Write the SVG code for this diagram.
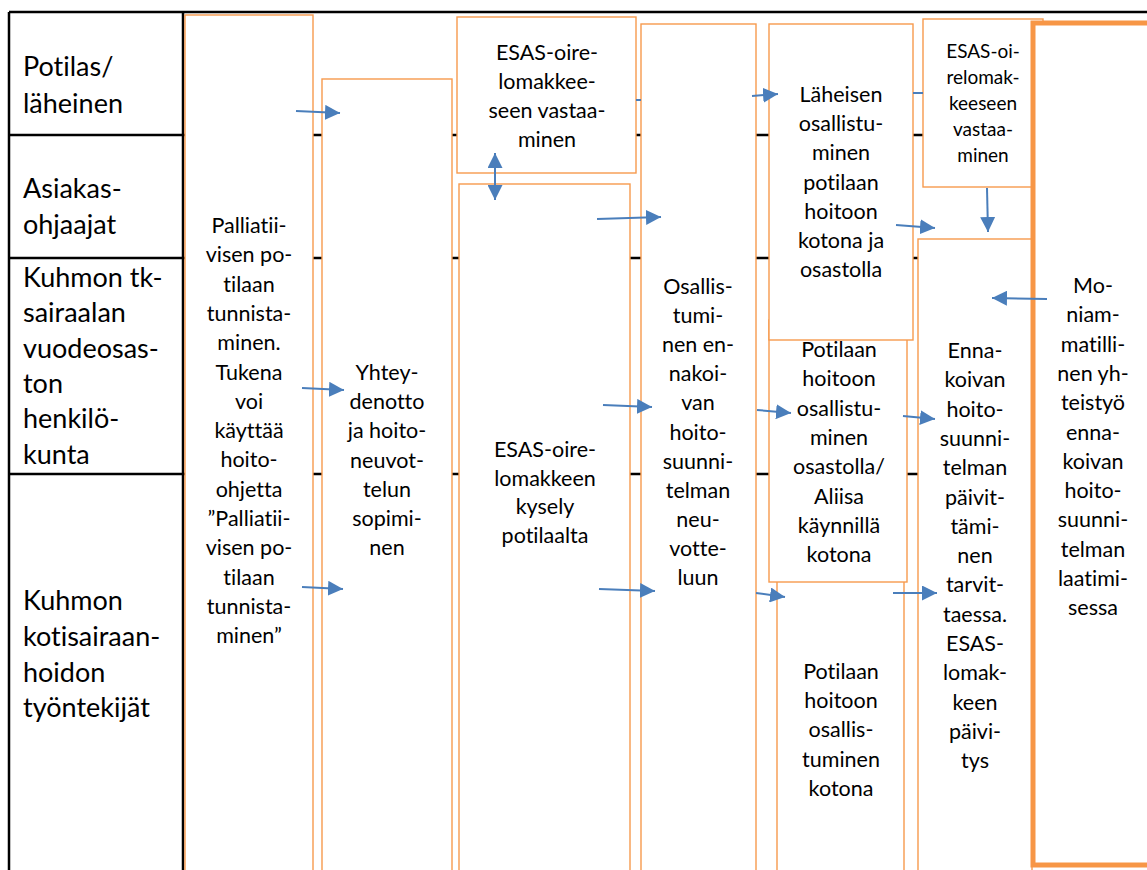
<svg xmlns="http://www.w3.org/2000/svg" width="1147" height="870" viewBox="0 0 1147 870">
<defs>
<style>
text{font-variant-ligatures:none}
.lane{stroke:#000;stroke-width:2.5;fill:none}
.box{fill:#fff;stroke:#F79A4D;stroke-width:1.4}
.thick{fill:#fff;stroke:#F79646;stroke-width:5}
.lbl{font-family:Lato,"Liberation Sans",sans-serif;font-size:27px;fill:#000}
.t{font-family:Lato,"Liberation Sans",sans-serif;font-size:21.5px;fill:#000;text-anchor:middle}
.ts{font-family:Lato,"Liberation Sans",sans-serif;font-size:19px;fill:#000;text-anchor:middle}
.c{stroke:#4A7EBB;stroke-width:2;fill:none}
</style>
<marker id="ah" markerUnits="userSpaceOnUse" markerWidth="16" markerHeight="15" refX="15" refY="7.5" orient="auto">
<path d="M0,0 L15,7.5 L0,15 z" fill="#4A7EBB"/>
</marker>
<marker id="as" markerUnits="userSpaceOnUse" markerWidth="16" markerHeight="15" refX="15" refY="7.5" orient="auto-start-reverse">
<path d="M0,0 L15,7.5 L0,15 z" fill="#4A7EBB"/>
</marker>
</defs>
<rect width="1147" height="870" fill="#fff"/>
<g id="lanes">
<line class="lane" x1="9" y1="12" x2="1147" y2="12"/>
<line class="lane" x1="9" y1="12" x2="9" y2="870"/>
<line class="lane" x1="183" y1="12" x2="183" y2="870"/>
<line class="lane" x1="9" y1="135" x2="1033" y2="135"/>
<line class="lane" x1="9" y1="258" x2="1033" y2="258"/>
<line class="lane" x1="9" y1="474" x2="1033" y2="474"/>
<text class="lbl" x="23" y="76">Potilas/</text>
<text class="lbl" x="23" y="113">läheinen</text>
<text class="lbl" x="23" y="198">Asiakas-</text>
<text class="lbl" x="23" y="234">ohjaajat</text>
<text class="lbl" x="23" y="287">Kuhmon tk-</text>
<text class="lbl" x="23" y="322">sairaalan</text>
<text class="lbl" x="23" y="358">vuodeosas-</text>
<text class="lbl" x="23" y="393">ton</text>
<text class="lbl" x="23" y="428">henkilö-</text>
<text class="lbl" x="23" y="464">kunta</text>
<text class="lbl" x="23" y="610">Kuhmon</text>
<text class="lbl" x="23" y="646">kotisairaan-</text>
<text class="lbl" x="23" y="682">hoidon</text>
<text class="lbl" x="23" y="717">työntekijät</text>
</g>
<g id="n1">
<rect class="box" x="185" y="15" width="128" height="900"/>
<text class="t"><tspan x="249" y="233">Palliatii-</tspan><tspan x="249" y="262.3">visen po-</tspan><tspan x="249" y="291.6">tilaan</tspan><tspan x="249" y="320.9">tunnista-</tspan><tspan x="249" y="350.2">minen.</tspan><tspan x="249" y="379.5">Tukena</tspan><tspan x="249" y="408.8">voi</tspan><tspan x="249" y="438.1">käyttää</tspan><tspan x="249" y="467.4">hoito-</tspan><tspan x="249" y="496.7">ohjetta</tspan><tspan x="249" y="526">”Palliatii-</tspan><tspan x="249" y="555.3">visen po-</tspan><tspan x="249" y="584.6">tilaan</tspan><tspan x="249" y="613.9">tunnista-</tspan><tspan x="249" y="643.2">minen”</tspan></text>
</g>
<g id="n2">
<rect class="box" x="322" y="79" width="130" height="840"/>
<text class="t"><tspan x="387" y="380">Yhtey-</tspan><tspan x="387" y="409.2">denotto</tspan><tspan x="387" y="438.4">ja hoito-</tspan><tspan x="387" y="467.6">neuvot-</tspan><tspan x="387" y="496.8">telun</tspan><tspan x="387" y="526">sopimi-</tspan><tspan x="387" y="555.2">nen</tspan></text>
</g>
<g id="n3">
<rect class="box" x="457" y="17" width="179" height="156"/>
<text class="t"><tspan x="547" y="60">ESAS-oire-</tspan><tspan x="547" y="89">lomakkee-</tspan><tspan x="547" y="118">seen vastaa-</tspan><tspan x="547" y="147">minen</tspan></text>
</g>
<g id="n4">
<rect class="box" x="459" y="184" width="171" height="740"/>
<text class="t"><tspan x="545" y="457">ESAS-oire-</tspan><tspan x="545" y="485.7">lomakkeen</tspan><tspan x="545" y="514.4">kysely</tspan><tspan x="545" y="543.1">potilaalta</tspan></text>
</g>
<g id="n5">
<rect class="box" x="641" y="24" width="115" height="900"/>
<text class="t"><tspan x="698" y="294">Osallis-</tspan><tspan x="698" y="323.1">tumi-</tspan><tspan x="698" y="352.2">nen en-</tspan><tspan x="698" y="381.3">nakoi-</tspan><tspan x="698" y="410.4">van</tspan><tspan x="698" y="439.5">hoito-</tspan><tspan x="698" y="468.6">suunni-</tspan><tspan x="698" y="497.7">telman</tspan><tspan x="698" y="526.8">neu-</tspan><tspan x="698" y="555.9">votte-</tspan><tspan x="698" y="585">luun</tspan></text>
</g>
<g id="n8">
<rect class="box" x="777" y="560" width="127" height="400"/>
<text class="t"><tspan x="841" y="679">Potilaan</tspan><tspan x="841" y="708.2">hoitoon</tspan><tspan x="841" y="737.4">osallis-</tspan><tspan x="841" y="766.6">tuminen</tspan><tspan x="841" y="795.8">kotona</tspan></text>
</g>
<g id="n7">
<rect class="box" x="769" y="320" width="138" height="262"/>
<text class="t"><tspan x="839" y="357">Potilaan</tspan><tspan x="839" y="386.3">hoitoon</tspan><tspan x="839" y="415.6">osallistu-</tspan><tspan x="839" y="444.9">minen</tspan><tspan x="839" y="474.2">osastolla/</tspan><tspan x="839" y="503.5">Aliisa</tspan><tspan x="839" y="532.8">käynnillä</tspan><tspan x="839" y="562.1">kotona</tspan></text>
</g>
<g id="n6">
<rect class="box" x="769" y="24" width="144" height="316"/>
<text class="t"><tspan x="841" y="102">Läheisen</tspan><tspan x="841" y="131.2">osallistu-</tspan><tspan x="841" y="160.4">minen</tspan><tspan x="841" y="189.6">potilaan</tspan><tspan x="841" y="218.8">hoitoon</tspan><tspan x="841" y="248">kotona ja</tspan><tspan x="841" y="277.2">osastolla</tspan></text>
</g>
<g id="n9">
<rect class="box" x="923" y="19" width="120" height="168"/>
<text class="ts"><tspan x="983" y="58">ESAS-oi-</tspan><tspan x="983" y="84">relomak-</tspan><tspan x="983" y="110">keeseen</tspan><tspan x="983" y="136">vastaa-</tspan><tspan x="983" y="162">minen</tspan></text>
</g>
<g id="n10">
<rect class="box" x="918" y="239" width="114" height="700"/>
<text class="t"><tspan x="975" y="358">Enna-</tspan><tspan x="975" y="387.3">koivan</tspan><tspan x="975" y="416.6">hoito-</tspan><tspan x="975" y="445.9">suunni-</tspan><tspan x="975" y="475.2">telman</tspan><tspan x="975" y="504.5">päivit-</tspan><tspan x="975" y="533.8">tämi-</tspan><tspan x="975" y="563.1">nen</tspan><tspan x="975" y="592.4">tarvit-</tspan><tspan x="975" y="621.7">taessa.</tspan><tspan x="975" y="651">ESAS-</tspan><tspan x="975" y="680.3">lomak-</tspan><tspan x="975" y="709.6">keen</tspan><tspan x="975" y="738.9">päivi-</tspan><tspan x="975" y="768.2">tys</tspan></text>
</g>
<g id="n11">
<rect class="thick" x="1033" y="23" width="150" height="842"/>
<text class="t"><tspan x="1093" y="293">Mo-</tspan><tspan x="1093" y="322.3">niam-</tspan><tspan x="1093" y="351.6">matilli-</tspan><tspan x="1093" y="380.9">nen yh-</tspan><tspan x="1093" y="410.2">teistyö</tspan><tspan x="1093" y="439.5">enna-</tspan><tspan x="1093" y="468.8">koivan</tspan><tspan x="1093" y="498.1">hoito-</tspan><tspan x="1093" y="527.4">suunni-</tspan><tspan x="1093" y="556.7">telman</tspan><tspan x="1093" y="586">laatimi-</tspan><tspan x="1093" y="615.3">sessa</tspan></text>
</g>
<g id="connectors">
<line class="c" x1="296" y1="111" x2="340" y2="113" marker-end="url(#ah)"/>
<line class="c" x1="302" y1="388" x2="344" y2="390" marker-end="url(#ah)"/>
<line class="c" x1="302" y1="587" x2="343" y2="589" marker-end="url(#ah)"/>
<line class="c" x1="495" y1="153" x2="495" y2="200" marker-start="url(#as)" marker-end="url(#as)"/>
<line class="c" x1="597" y1="219" x2="661" y2="217" marker-end="url(#ah)"/>
<line class="c" x1="603" y1="405" x2="652" y2="407" marker-end="url(#ah)"/>
<line class="c" x1="599" y1="589" x2="655" y2="591" marker-end="url(#ah)"/>
<line class="c" x1="752" y1="96" x2="778" y2="94" marker-end="url(#ah)"/>
<line class="c" x1="636" y1="100" x2="641" y2="100"/>
<line class="c" x1="913" y1="93" x2="923" y2="93"/>
<line class="c" x1="757" y1="410" x2="791" y2="413" marker-end="url(#ah)"/>
<line class="c" x1="756" y1="593" x2="785" y2="597" marker-end="url(#ah)"/>
<line class="c" x1="896" y1="225" x2="935" y2="228" marker-end="url(#ah)"/>
<line class="c" x1="987" y1="188" x2="988" y2="232" marker-end="url(#ah)"/>
<line class="c" x1="903" y1="416" x2="935" y2="419" marker-end="url(#ah)"/>
<line class="c" x1="893" y1="593" x2="937" y2="593" marker-end="url(#ah)"/>
<line class="c" x1="1047" y1="299" x2="992" y2="298" marker-end="url(#ah)"/>
</g>
</svg>
